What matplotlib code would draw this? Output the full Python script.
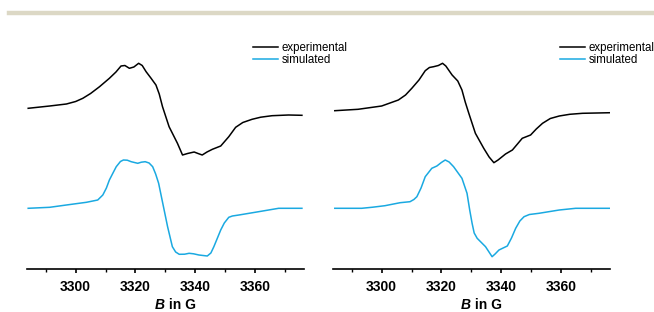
import numpy as np
import matplotlib
matplotlib.use("Agg")
import matplotlib.pyplot as plt
from matplotlib.lines import Line2D

plt.rcParams['font.family'] = ['Liberation Sans', 'DejaVu Sans']

# left sample: field (G) and derivative intensity (a.u.)
b_exp_left = [3284.1, 3291.3, 3296.9, 3300.0, 3302.4, 3305.0, 3308.0, 3311.3, 3313.5,
              3315.2, 3316.5, 3318.0, 3319.5, 3321.1, 3322.3, 3323.6, 3325.2, 3326.9,
              3328.0, 3329.1, 3331.3, 3334.1, 3335.8, 3337.5, 3339.7, 3341.0, 3342.4,
              3344.0, 3345.8, 3348.6, 3351.3, 3353.6, 3356.0, 3359.1, 3362.0, 3365.8,
              3371.3, 3375.8]
i_exp_left = [3.7, 6.0, 8.0, 10.5, 13.7, 18.5, 25.3, 33.7, 40.0,
              46.0, 46.5, 43.7, 45.0, 48.7, 46.5, 40.3, 34.0, 27.0,
              18.0, 5.3, -14.7, -31.3, -43.0, -41.5, -40.0, -41.5, -43.0,
              -40.0, -37.3, -34.0, -24.7, -15.3, -10.5, -7.3, -5.2, -3.7,
              -3.0, -3.3]

b_sim_left = [3284.1, 3291.3, 3296.9, 3303.6, 3307.4, 3309.1, 3310.3, 3311.3, 3312.5,
              3313.6, 3315.0, 3316.0, 3317.3, 3318.6, 3320.8, 3322.0, 3323.3, 3324.6,
              3325.8, 3326.8, 3327.8, 3329.3, 3330.8, 3332.4, 3333.5, 3334.7, 3336.5,
              3338.0, 3339.5, 3341.3, 3344.1, 3345.3, 3346.3, 3347.5, 3348.6, 3349.8,
              3351.3, 3352.5, 3354.7, 3361.3, 3368.0, 3375.8]
i_sim_left = [-0.3, 0.7, 3.0, 5.7, 8.0, 13.0, 20.0, 28.0, 35.0,
              41.3, 46.5, 48.0, 47.8, 46.3, 44.7, 45.8, 46.3, 45.0,
              41.3, 34.0, 24.7, 3.0, -18.7, -38.7, -44.0, -46.3, -46.2,
              -45.3, -45.8, -47.0, -48.0, -45.0, -38.7, -30.0, -22.0, -15.0,
              -9.3, -8.0, -7.0, -3.7, -0.3, -0.3]

# right sample
b_exp_right = [3284.3, 3292.1, 3300.0, 3305.6, 3308.0, 3310.1, 3312.5, 3314.6, 3316.0,
               3317.4, 3319.0, 3320.4, 3321.5, 3323.6, 3325.5, 3326.9, 3328.0, 3329.2,
               3331.4, 3334.2, 3336.0, 3337.6, 3339.0, 3341.5, 3343.8, 3345.5, 3347.1,
               3349.9, 3351.8, 3353.9, 3356.5, 3359.5, 3363.0, 3367.3, 3376.9]
i_exp_right = [1.3, 2.7, 6.0, 12.0, 17.0, 23.7, 32.0, 41.3, 44.5,
               45.3, 46.5, 48.7, 46.0, 37.0, 31.0, 22.0, 10.0, -1.3,
               -21.3, -36.3, -45.0, -50.7, -48.0, -42.0, -38.0, -32.0, -26.3,
               -23.0, -17.0, -11.3, -6.5, -4.0, -2.3, -1.3, -0.7]

b_sim_right = [3284.3, 3293.3, 3297.0, 3301.1, 3306.2, 3309.5, 3310.8, 3311.8, 3313.2,
               3314.6, 3316.8, 3318.5, 3320.0, 3321.3, 3322.6, 3324.1, 3326.9, 3328.6,
               3329.5, 3330.3, 3331.0, 3332.0, 3334.8, 3337.0, 3338.0, 3339.3, 3342.1,
               3343.5, 3344.9, 3346.3, 3347.7, 3349.5, 3352.7, 3359.5, 3365.0, 3376.9]
i_sim_right = [-0.3, -0.3, 0.8, 2.3, 5.3, 6.3, 8.5, 11.3, 20.0,
               31.3, 39.7, 42.0, 45.5, 48.0, 46.0, 41.3, 29.7, 14.7,
               -2.0, -15.3, -25.0, -30.3, -38.7, -48.7, -46.0, -42.0, -38.0,
               -30.0, -20.3, -13.0, -8.7, -6.5, -5.3, -2.0, -0.3, -0.3]

exp_offset = 96
xticks = [3300, 3320, 3340, 3360]
sim_color = '#1aa9e1'

fig = plt.figure(figsize=(6.54, 3.12), dpi=100)
fig.add_artist(Line2D([9 / 654, 1], [1 - 13 / 312, 1 - 13 / 312], color='#dcd8c5', lw=3.2))

panels = [
    (27, b_exp_left, i_exp_left, b_sim_left, i_sim_left, 253),
    (333, b_exp_right, i_exp_right, b_sim_right, i_sim_right, 560),
]

for x0, bx, ix, bs, is_, leg_x in panels:
    ax = fig.add_axes([x0 / 654, 1 - 269 / 312, 277 / 654, 229 / 312])
    ax.plot(bx, np.array(ix) + exp_offset, color='black', lw=1.1, label='experimental')
    ax.plot(bs, is_, color=sim_color, lw=1.1, label='simulated')
    ax.set_xlim(3283.7, 3376.5)
    ax.set_ylim(-61, 168)
    for s in ['top', 'right', 'left']:
        ax.spines[s].set_visible(False)
    ax.spines['bottom'].set_linewidth(1.2)
    ax.set_yticks([])
    ax.set_xticks(xticks)
    ax.set_xticks([3290, 3310, 3330, 3350, 3370], minor=True)
    ax.tick_params(axis='x', which='major', direction='out', length=3, width=1.2, pad=5)
    ax.tick_params(axis='x', which='minor', direction='out', length=2, width=1.0)
    for lab in ax.get_xticklabels():
        lab.set_fontweight('bold')
        lab.set_fontsize(10)
    # x label: italic bold B + bold " in G"
    fig.text((x0 + 138) / 654, 1 - 305 / 312, 'B', fontsize=10, fontweight='bold',
             fontstyle='italic', ha='right', va='center')
    fig.text((x0 + 138) / 654, 1 - 305 / 312, ' in G', fontsize=10, fontweight='bold',
             ha='left', va='center')
    fig.legend(handles=ax.get_lines(), loc='upper left',
               bbox_to_anchor=(leg_x / 654, 1 - 42 / 312), frameon=False, fontsize=8.3,
               handlelength=2.2, handletextpad=0.3, labelspacing=0.0, borderpad=0,
               borderaxespad=0)

fig.savefig('out.png', dpi=100)
